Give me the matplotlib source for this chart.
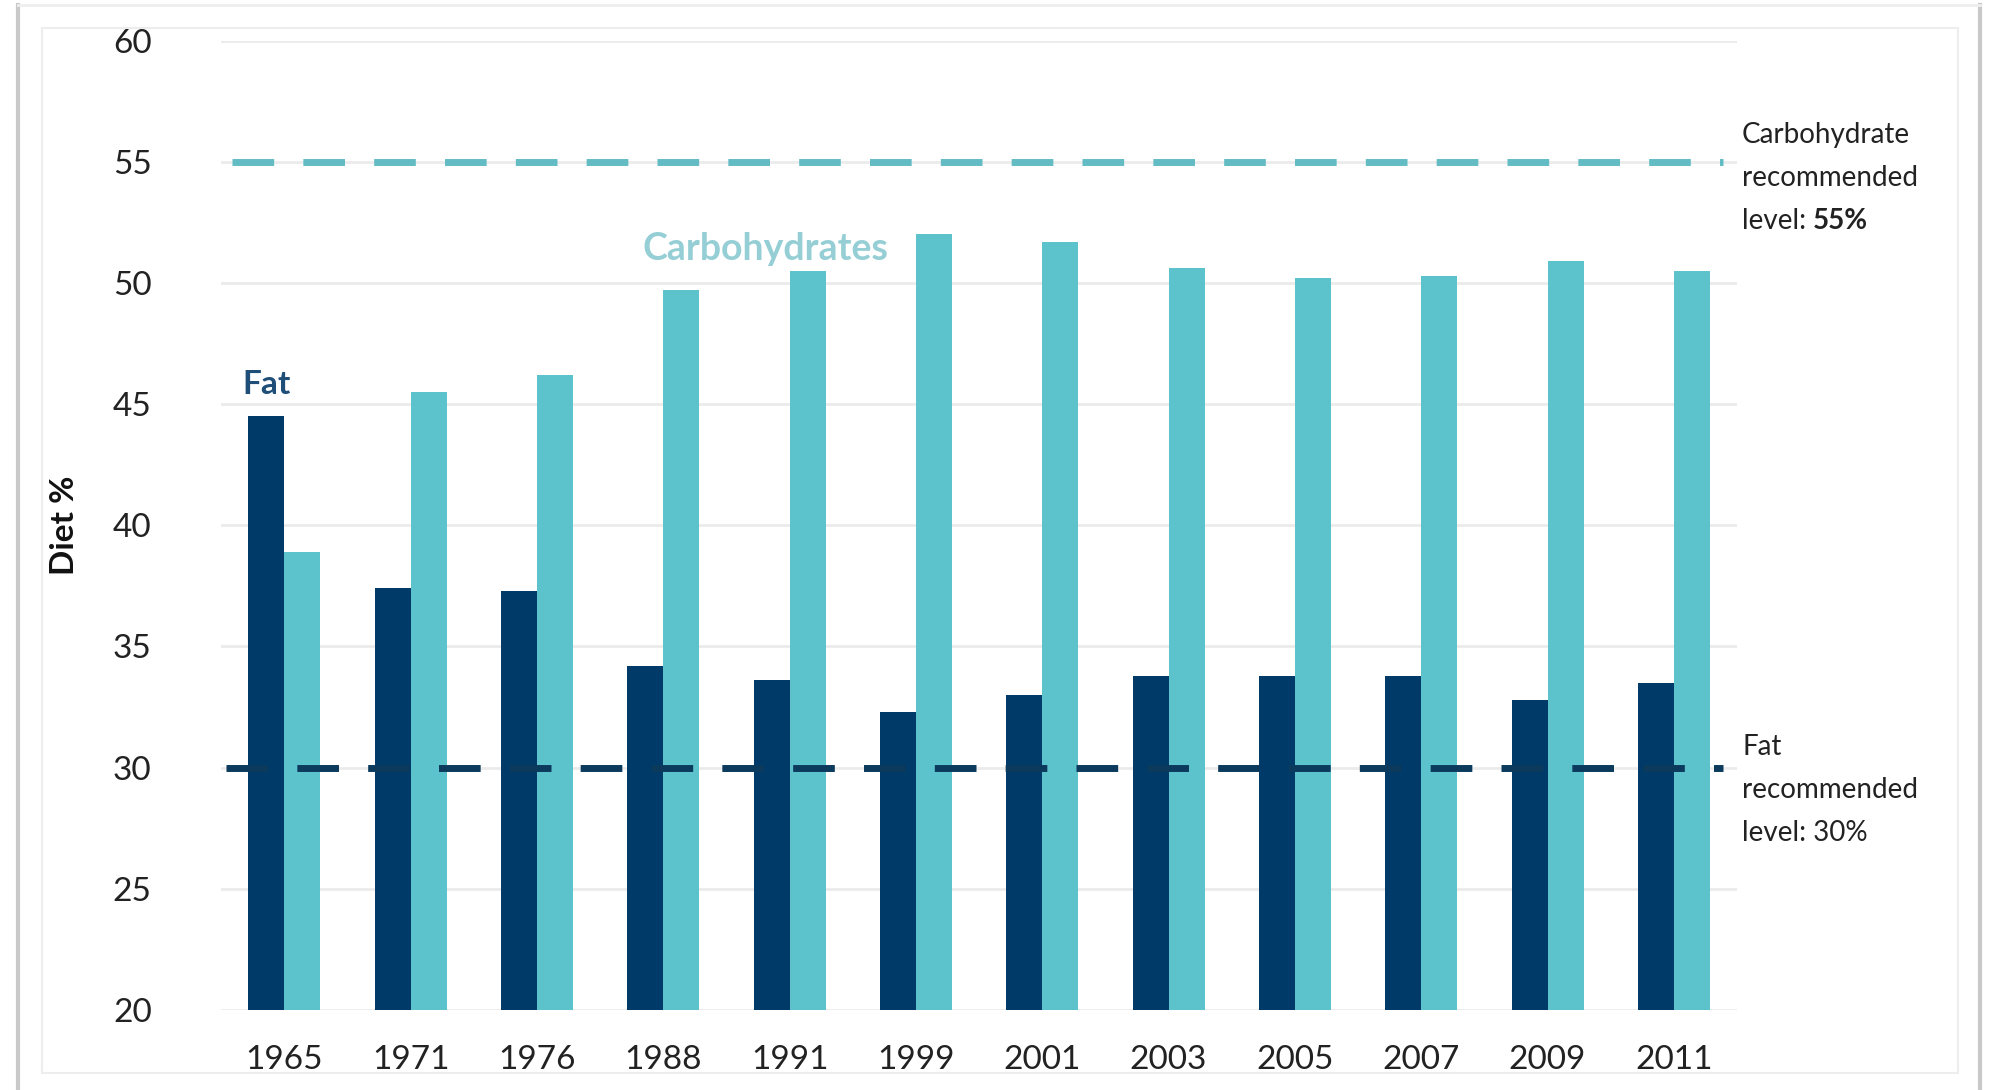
import numpy as np
import matplotlib
matplotlib.use("Agg")
import matplotlib.pyplot as plt
from matplotlib.lines import Line2D
from matplotlib.patches import Rectangle

plt.rcParams['font.family'] = ['Lato', 'DejaVu Sans']

# survey years and share of diet (%) for fat and carbohydrates
years = ['1965', '1971', '1976', '1988', '1991', '1999', '2001', '2003', '2005', '2007', '2009', '2011']
fat = [44.5, 37.4, 37.3, 34.2, 33.6, 32.3, 33.0, 33.8, 33.8, 33.8, 32.8, 33.5]
carbs = [38.9, 45.5, 46.2, 49.7, 50.5, 52.0, 51.7, 50.6, 50.2, 50.3, 50.9, 50.5]

fat_target = 30
carb_target = 55

navy = '#003A68'
teal = '#5CC3CC'
ink = '#222222'

fig = plt.figure(figsize=(19.92, 10.9), dpi=100)
ax = fig.add_axes([0.111, 0.0734, 0.761, 0.8894])

x = np.arange(len(years))
w = 0.285
ax.bar(x - w/2, fat, w, color=navy, zorder=2)
ax.bar(x + w/2, carbs, w, color=teal, zorder=2)

# recommended levels
ax.hlines(carb_target, -0.41, 11.39, colors='#63BCC4', linewidth=5,
          linestyles=(0, (6, 4.2)), zorder=3)
ax.hlines(fat_target, -0.46, 11.39, colors='#0B3A5C', linewidth=5,
          linestyles=(0, (6, 4.2)), zorder=3)

ax.set_ylim(20, 60)
ax.set_xlim(-0.5, len(years) - 0.5)
ax.set_yticks(np.arange(20, 61, 5))
ax.set_xticks(x)
ax.set_xticklabels(years)
ax.tick_params(length=0, labelsize=24, colors=ink)
ax.tick_params(axis='y', pad=50)
ax.tick_params(axis='x', pad=25)
ax.yaxis.grid(True, color='#EBEBEB', linewidth=2)
ax.set_axisbelow(True)
ax.patch.set_alpha(0)
for s in ax.spines.values():
    s.set_visible(False)

ax.set_ylabel('Diet %', fontsize=24, fontweight='bold', color='#111111', labelpad=24)

ax.text(-0.14, 45.8, 'Fat', color='#1F4E79', fontsize=24, fontweight='bold',
        ha='center', va='center')
ax.text(3.81, 51.4, 'Carbohydrates', color='#95CFD5', fontsize=27, fontweight='bold',
        ha='center', va='center')

# side notes for the recommended levels, one line at a time
nx = 1742/1992
step = 43/1090


def note(top_px, lines):
    y0 = 1 - top_px/1090
    for i, s in enumerate(lines):
        fig.text(nx, y0 - i*step, s, fontsize=20, color=ink, ha='left', va='top')


note(122, ['Carbohydrate', 'recommended'])
lvl = fig.text(nx, 1 - 122/1090 - 2*step, 'level: ', fontsize=20, color=ink,
               ha='left', va='top')
fig.canvas.draw()
lvl_box = lvl.get_window_extent()
fig.text(lvl_box.x1/fig.bbox.width, 1 - 122/1090 - 2*step, '55%', fontsize=20,
         fontweight='bold', color=ink, ha='left', va='top')
note(734, ['Fat', 'recommended', 'level: 30%'])

# page frame, kept behind the chart
fig.patches.append(Rectangle((42/1992, 1 - 1073/1090), 1916/1992, 1045/1090,
                             transform=fig.transFigure, fill=False,
                             edgecolor='#EDEDED', linewidth=1.5, zorder=-1))
fig.lines.append(Line2D([18/1992, 18/1992], [0, 1 - 5/1090], transform=fig.transFigure,
                        color='#C9C9C9', linewidth=3, zorder=-1))
fig.lines.append(Line2D([1980/1992, 1980/1992], [0, 1 - 5/1090], transform=fig.transFigure,
                        color='#C9C9C9', linewidth=3, zorder=-1))
fig.lines.append(Line2D([18/1992, 1980/1992], [1 - 5/1090, 1 - 5/1090], transform=fig.transFigure,
                        color='#EEEEEE', linewidth=2, zorder=-1))

fig.savefig('out.png', dpi=100)
